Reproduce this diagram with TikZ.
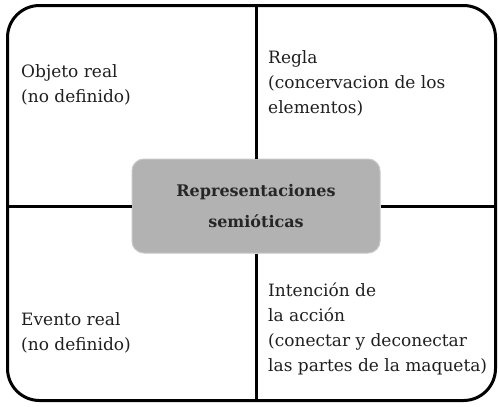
\documentclass[tikz,border=0pt]{standalone}
\usepackage{fontspec}
\setmainfont{DejaVu Serif}
\begin{document}
\begin{tikzpicture}[x=1pt,y=-1pt,
  lbl/.style={anchor=north west,inner sep=0pt,align=left,text=black!88,
    font=\fontsize{17}{25}\selectfont},
  divider/.style={line width=3pt,black},
  center/.style={draw=black!22,line width=1pt,fill=black!30,rounded corners=12pt,
    minimum width=248pt,minimum height=94pt,align=center,text=black!85,
    font=\bfseries\fontsize{16}{31}\selectfont},
  frame/.style={draw,line width=3pt,rounded corners=32pt,
    minimum width=488pt,minimum height=395pt,inner sep=0pt}]
\useasboundingbox (0,0) rectangle (499,407);
\node[frame] (fr) at (251.5,203) {};
\node[center] (box) at (256,206) {Representaciones\\semióticas};
\draw[divider] (box.north) -- (box.north |- fr.north);
\draw[divider] (box.south) -- (box.south |- fr.south);
\draw[divider] (box.west) -- (box.west -| fr.west);
\draw[divider] (box.east) -- (box.east -| fr.east);
\node[lbl] (obj) at (21,64) {Objeto real\\(no definido)};
\node[lbl] (reg) at (268,50) {Regla\\(concervacion de los\\elementos)};
\node[lbl] (evt) at (21,312) {Evento real\\(no definido)};
\node[lbl] (int) at (268,283) {Intención de\\la acción\\(conectar y deconectar\\las partes de la maqueta)};
\end{tikzpicture}
\end{document}
